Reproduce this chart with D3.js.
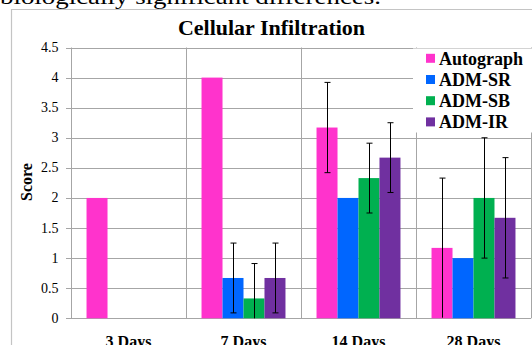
<!DOCTYPE html>
<html><head><meta charset="utf-8">
<script src="https://cdn.jsdelivr.net/npm/d3@7"></script>
<style>body{margin:0;background:#fff;}svg{display:block;}</style>
</head><body>
<svg id="c" width="532" height="345"></svg>
<script>
const categories = ["3 Days", "7 Days", "14 Days", "28 Days"];
const seriesNames = ["Autograph", "ADM-SR", "ADM-SB", "ADM-IR"];
const colors = ["#FF33CC", "#0066FF", "#00B050", "#7030A0"];
const autograph = [2, 4, 3.17, 1.17];
const admSR = [0, 0.67, 2, 1];
const admSB = [0, 0.33, 2.33, 2];
const admIR = [0, 0.67, 2.67, 1.67];
const errAutograph = [0, 0, 0.75, 1.16];
const errSR = [0, 0.58, 0, 0];
const errSB = [0, 0.58, 0.58, 1.0];
const errIR = [0, 0.58, 0.58, 1.0];
const yTicks = [0, 0.5, 1, 1.5, 2, 2.5, 3, 3.5, 4, 4.5];

const values = [autograph, admSR, admSB, admIR];
const errs = [errAutograph, errSR, errSB, errIR];
const svg = d3.select("#c");
const serif = "Liberation Serif";

svg.append("text").attr("x", 0).attr("y", 4).attr("font-family", serif).attr("font-size", 21)
  .attr("textLength", 381).attr("lengthAdjust", "spacingAndGlyphs")
  .text("biologically significant differences.");

svg.append("path").attr("d", "M11.5,360 V9.5 H560").attr("fill", "none").attr("stroke", "#c4c4c4").attr("stroke-width", 1.2);

const pL = 71, pR = 531, pT = 47.5, pB = 318.3;
const x = d3.scaleBand().domain(categories).range([pL, pR]).paddingInner(0).paddingOuter(0);
const xs = d3.scaleBand().domain(seriesNames).range([0, x.bandwidth()]).paddingOuter(0.74).paddingInner(0);
const y = d3.scaleLinear().domain([0, 4.5]).range([pB, pT]);

const g = svg.append("g");
g.selectAll(".hg").data(yTicks).enter().append("line")
  .attr("x1", pL - 5).attr("x2", pR).attr("y1", d => Math.round(y(d)) + 0.5).attr("y2", d => Math.round(y(d)) + 0.5)
  .attr("stroke", "#a6a6a6").attr("stroke-width", 1);
g.selectAll(".vg").data(categories.concat(["end"])).enter().append("line")
  .attr("x1", (d, i) => i < 4 ? Math.round(x(d)) + 0.5 : pR + 0.5)
  .attr("x2", (d, i) => i < 4 ? Math.round(x(d)) + 0.5 : pR + 0.5)
  .attr("y1", pT).attr("y2", pB)
  .attr("stroke", "#a6a6a6").attr("stroke-width", 1);

svg.selectAll(".yl").data(yTicks).enter().append("text")
  .attr("x", 58.5).attr("y", d => y(d) + 4.5).attr("text-anchor", "end")
  .attr("font-family", serif).attr("font-size", 14).text(d => d);

seriesNames.forEach((s, si) => {
  svg.append("g").selectAll("rect").data(categories).enter().append("rect")
    .attr("x", d => x(d) + xs(s)).attr("width", xs.bandwidth())
    .attr("y", (d, i) => y(values[si][i])).attr("height", (d, i) => y(0) - y(values[si][i]))
    .attr("fill", colors[si]);
});
seriesNames.forEach((s, si) => {
  categories.forEach((c, i) => {
    const e = errs[si][i];
    if (!e) return;
    const cx = Math.round(x(c) + xs(s) + xs.bandwidth() / 2) + 0.5;
    const v = values[si][i];
    const y1 = y(v + e), y2 = y(Math.max(0, v - e));
    const gg = svg.append("g").attr("stroke", "#000").attr("stroke-width", 1);
    gg.append("line").attr("x1", cx).attr("x2", cx).attr("y1", y1).attr("y2", y2);
    gg.append("line").attr("x1", cx - 3).attr("x2", cx + 3).attr("y1", y1).attr("y2", y1);
    if (v - e > 0.02) gg.append("line").attr("x1", cx - 3).attr("x2", cx + 3).attr("y1", y2).attr("y2", y2);
  });
});

svg.selectAll(".xl").data(categories).enter().append("text")
  .attr("x", d => x(d) + x.bandwidth() / 2).attr("y", 347).attr("text-anchor", "middle")
  .attr("font-family", serif).attr("font-size", 16).attr("font-weight", "bold").text(d => d);

svg.append("text").attr("transform", "translate(32,182) rotate(-90)").attr("text-anchor", "middle")
  .attr("font-family", serif).attr("font-size", 16).attr("font-weight", "bold").text("Score");

svg.append("text").attr("x", 271.5).attr("y", 35).attr("text-anchor", "middle")
  .attr("font-family", serif).attr("font-size", 22).attr("font-weight", "bold").text("Cellular Infiltration");

const lg = svg.append("g");
lg.append("rect").attr("x", 413).attr("y", 48.5).attr("width", 125).attr("height", 84).attr("fill", "#fff");
seriesNames.forEach((s, i) => {
  const ly = 58.3 + i * 21.2;
  lg.append("rect").attr("x", 426).attr("y", ly - 4.5).attr("width", 9).attr("height", 9).attr("fill", colors[i]);
  lg.append("text").attr("x", 439).attr("y", ly + 6.5).attr("font-family", serif).attr("font-size", 18)
    .attr("font-weight", "bold").text(s);
});
</script>
</body></html>
